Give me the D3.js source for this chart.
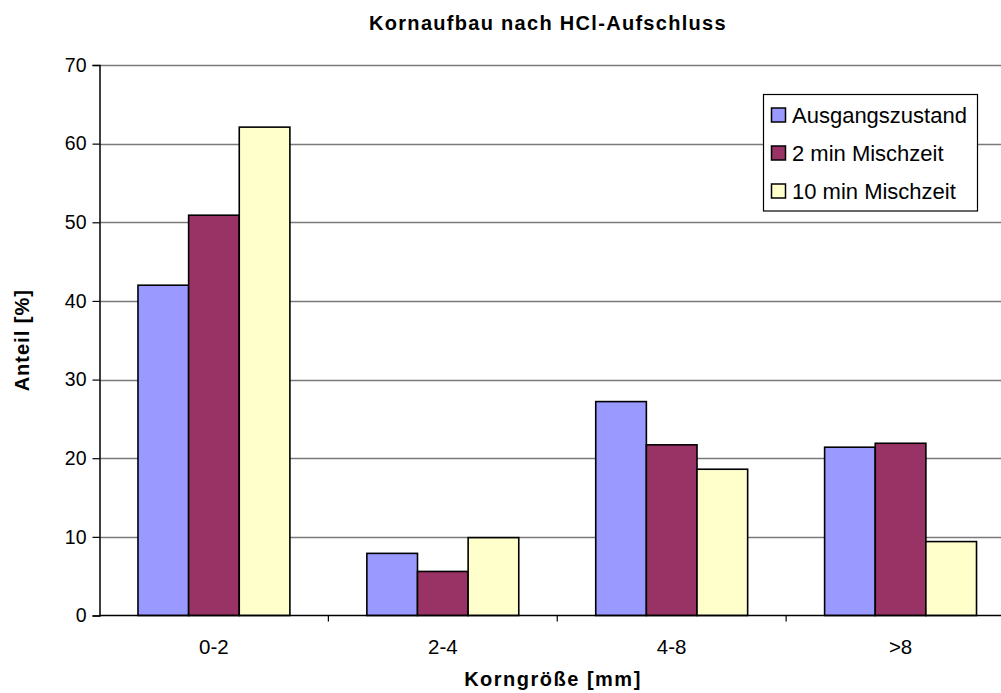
<!DOCTYPE html>
<html>
<head>
<meta charset="utf-8">
<script src="https://cdn.jsdelivr.net/npm/d3@7"></script>
<style>
  html, body { margin: 0; padding: 0; background: #fff; }
  svg { display: block; font-family: "Liberation Sans", Arial, sans-serif; }
</style>
</head>
<body>
<svg id="chart" width="1001" height="693"></svg>
<script>
// Grain size distribution after HCl digestion
const categories = ["0-2", "2-4", "4-8", ">8"];
const seriesNames = ["Ausgangszustand", "2 min Mischzeit", "10 min Mischzeit"];
const ausgangszustand = [42.0, 7.9, 27.2, 21.4];
const mischzeit2 = [50.9, 5.6, 21.7, 21.9];
const mischzeit10 = [62.1, 9.9, 18.6, 9.4];
const seriesColors = ["#9999FF", "#993366", "#FFFFCC"];
const yTicks = [0, 10, 20, 30, 40, 50, 60, 70];

const seriesValues = [ausgangszustand, mischzeit2, mischzeit10];

const svg = d3.select("#chart");
const plot = { left: 99.5, right: 1015, top: 65, bottom: 615.5 };

const x = d3.scaleBand().domain(categories).range([plot.left, plot.right]).paddingInner(0).paddingOuter(0);
const xInner = d3.scaleBand().domain(d3.range(seriesNames.length))
  .range([0, x.bandwidth()]).paddingOuter(0.76).paddingInner(0);
const y = d3.scaleLinear().domain([0, 70]).range([plot.bottom, plot.top]);

// gridlines
svg.append("g").selectAll("line").data(yTicks.filter(d => d > 0)).join("line")
  .attr("x1", plot.left).attr("x2", plot.right)
  .attr("y1", d => Math.round(y(d)) + 0.5).attr("y2", d => Math.round(y(d)) + 0.5)
  .attr("stroke", "#7a7a7a").attr("stroke-width", 1.5);

// bars
const groups = svg.append("g").selectAll("g").data(categories).join("g")
  .attr("transform", c => `translate(${x(c)},0)`);
groups.selectAll("rect").data((c, i) => seriesValues.map((s, k) => ({ k, v: s[i] }))).join("rect")
  .attr("x", d => xInner(d.k))
  .attr("width", xInner.bandwidth())
  .attr("y", d => y(d.v))
  .attr("height", d => y(0) - y(d.v))
  .attr("fill", d => seriesColors[d.k])
  .attr("stroke", "#000").attr("stroke-width", 1.6);

// y axis
const yAxis = d3.axisLeft(y).tickValues(yTicks).tickSize(7).tickPadding(6);
const gy = svg.append("g").attr("transform", `translate(${plot.left},0)`).call(yAxis);
gy.select(".domain").attr("stroke", "#000").attr("stroke-width", 1.5);
gy.selectAll(".tick line").attr("stroke", "#000").attr("stroke-width", 1.2);
gy.selectAll(".tick text").attr("font-size", 19.5).attr("fill", "#000")
  .attr("font-family", "Liberation Sans, Arial, sans-serif");

// x axis with ticks at category boundaries
svg.append("line").attr("x1", plot.left).attr("x2", plot.right)
  .attr("y1", plot.bottom).attr("y2", plot.bottom)
  .attr("stroke", "#000").attr("stroke-width", 1.5);
svg.append("g").selectAll("line").data(categories).join("line")
  .attr("x1", c => x(c) + x.bandwidth()).attr("x2", c => x(c) + x.bandwidth())
  .attr("y1", plot.bottom).attr("y2", plot.bottom + 6)
  .attr("stroke", "#000").attr("stroke-width", 1.2);
svg.append("g").selectAll("text").data(categories).join("text")
  .attr("x", c => x(c) + x.bandwidth() / 2).attr("y", 654)
  .attr("text-anchor", "middle").attr("font-size", 20.5).attr("fill", "#000")
  .text(c => c);

// titles
svg.append("text").attr("x", 548).attr("y", 30).attr("text-anchor", "middle")
  .attr("font-size", 20).attr("font-weight", "bold").attr("letter-spacing", 1.3)
  .text("Kornaufbau nach HCl-Aufschluss");
svg.append("text").attr("x", 553).attr("y", 686).attr("text-anchor", "middle")
  .attr("font-size", 20).attr("font-weight", "bold").attr("letter-spacing", 1.5)
  .text("Korngröße [mm]");
svg.append("text").attr("transform", `translate(29,${(plot.top + plot.bottom) / 2}) rotate(-90)`)
  .attr("text-anchor", "middle")
  .attr("font-size", 20).attr("font-weight", "bold").attr("letter-spacing", 1)
  .text("Anteil [%]");

// legend
const legend = svg.append("g");
legend.append("rect").attr("x", 763.5).attr("y", 94.5).attr("width", 214).attr("height", 116.5)
  .attr("fill", "#fff").attr("stroke", "#000").attr("stroke-width", 1.2);
const items = legend.selectAll("g").data(seriesNames).join("g")
  .attr("transform", (d, i) => `translate(771,${115 + i * 38})`);
items.append("rect").attr("x", 0.5).attr("y", -7).attr("width", 14).attr("height", 14)
  .attr("fill", (d, i) => seriesColors[i]).attr("stroke", "#000").attr("stroke-width", 1.5);
items.append("text").attr("x", 21).attr("y", 7.5).attr("font-size", 22).attr("fill", "#000")
  .text(d => d);
</script>
</body>
</html>
